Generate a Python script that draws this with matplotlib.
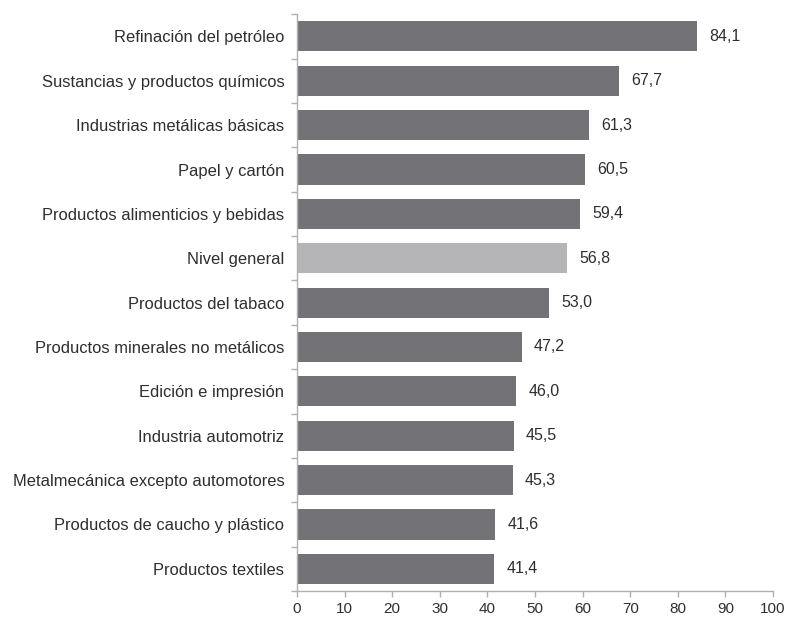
import numpy as np
import matplotlib.pyplot as plt

plt.rcParams['font.family'] = ['Liberation Sans', 'DejaVu Sans']

# datos
sectores = [
    'Refinación del petróleo',
    'Sustancias y productos químicos',
    'Industrias metálicas básicas',
    'Papel y cartón',
    'Productos alimenticios y bebidas',
    'Nivel general',
    'Productos del tabaco',
    'Productos minerales no metálicos',
    'Edición e impresión',
    'Industria automotriz',
    'Metalmecánica excepto automotores',
    'Productos de caucho y plástico',
    'Productos textiles',
]
valores = [84.1, 67.7, 61.3, 60.5, 59.4, 56.8, 53.0, 47.2, 46.0, 45.5, 45.3, 41.6, 41.4]
destacado = 'Nivel general'

col_barra = '#737377'
col_dest = '#b5b5b7'
col_eje = '#b0b0b0'
col_txt = '#2e2e2e'

fig = plt.figure(figsize=(7.88, 6.18), dpi=100)
ax = fig.add_axes([0.3769, 0.0437, 0.6041, 0.9333])

y = np.arange(len(sectores))
colores = [col_dest if s == destacado else col_barra for s in sectores]
ax.barh(y, valores, height=0.68, color=colores, edgecolor='none')

# etiquetas de valor (coma decimal)
for yi, v in zip(y, valores):
    ax.text(v + 2.6, yi, f'{v:.1f}'.replace('.', ','), va='center', ha='left',
            fontsize=11.5, color=col_txt)

ax.set_xlim(0, 100)
ax.set_ylim(len(sectores) - 0.5, -0.5)
ax.set_xticks(np.arange(0, 101, 10))
ax.set_yticks(y)
ax.set_yticklabels(sectores)
ax.set_yticks(np.arange(-0.5, len(sectores), 1), minor=True)

ax.tick_params(axis='y', which='major', length=0, pad=9, labelsize=11.9, labelcolor=col_txt)
ax.tick_params(axis='y', which='minor', length=4, width=1, color=col_eje)
ax.tick_params(axis='x', length=4, width=1, color=col_eje, labelsize=11,
               labelcolor=col_txt, pad=4)

for s in ['top', 'right']:
    ax.spines[s].set_visible(False)
for s in ['left', 'bottom']:
    ax.spines[s].set_color(col_eje)
    ax.spines[s].set_linewidth(1)

plt.savefig('out.png', dpi=100)
